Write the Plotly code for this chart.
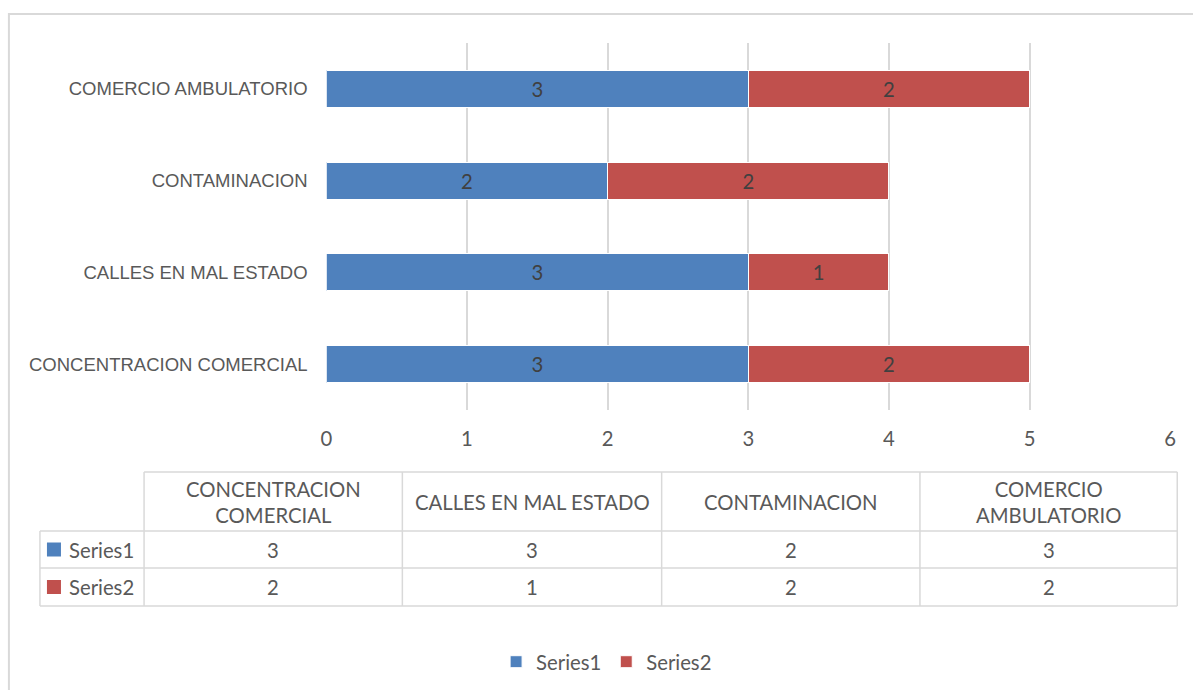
import plotly.graph_objects as go

# ---- data ----
categories = ["CONCENTRACION COMERCIAL", "CALLES EN MAL ESTADO", "CONTAMINACION", "COMERCIO AMBULATORIO"]
series_names = ["Series1", "Series2"]
series1 = [3, 3, 2, 3]
series2 = [2, 1, 2, 2]
x_ticks = [0, 1, 2, 3, 4, 5, 6]
table_headers = ["CONCENTRACION<br>COMERCIAL", "CALLES EN MAL ESTADO", "CONTAMINACION", "COMERCIO<br>AMBULATORIO"]

# ---- styles / layout ----
W, H = 1193, 690
colors = ["#4F81BD", "#C0504D"]
grid_col = "#D9D9D9"
text_col = "#595959"
label_col = "#404040"
num_font = "Lato, 'Open Sans', sans-serif"
cat_font = "'Liberation Sans', Arial, sans-serif"
NUM_SIZE = 20.3

# horizontal placement correction (observed page scaling in the viewer)
HX_SCALE, HX_OFF = 0.9888, 6.1

def px(x):
    return ((x - HX_OFF) / HX_SCALE) / W

def py(y):
    return 1 - y / H

fig = go.Figure()
for name, vals, col in zip(series_names, [series1, series2], colors):
    fig.add_trace(go.Bar(
        y=categories, x=vals, name=name, orientation="h",
        marker=dict(color=col, line=dict(color="white", width=1)),
        text=[str(v) for v in vals], textposition="inside",
        insidetextanchor="middle",
        textfont=dict(family=num_font, size=NUM_SIZE, color=label_col),
        hoverinfo="x+y+name",
    ))

shapes = []
annotations = []

# outer chart frame
shapes.append(dict(type="rect", xref="paper", yref="paper",
                   x0=px(9), x1=px(1215), y0=py(14), y1=py(720),
                   line=dict(color=grid_col, width=2), layer="below"))

# ---- data table (below the chart) ----
col_edges = [40, 144, 402, 661, 919, 1176]
row_edges = [472, 531, 568, 606]
tline = dict(color=grid_col, width=1.5)
shapes.append(dict(type="line", xref="paper", yref="paper",
                   x0=px(col_edges[1]), x1=px(col_edges[-1]),
                   y0=py(row_edges[0]), y1=py(row_edges[0]), line=tline))
for r in row_edges[1:]:
    shapes.append(dict(type="line", xref="paper", yref="paper",
                       x0=px(col_edges[0]), x1=px(col_edges[-1]),
                       y0=py(r), y1=py(r), line=tline))
shapes.append(dict(type="line", xref="paper", yref="paper",
                   x0=px(col_edges[0]), x1=px(col_edges[0]),
                   y0=py(row_edges[1]), y1=py(row_edges[-1]), line=tline))
for c in col_edges[1:]:
    shapes.append(dict(type="line", xref="paper", yref="paper",
                       x0=px(c), x1=px(c),
                       y0=py(row_edges[0]), y1=py(row_edges[-1]), line=tline))

tfont = dict(family=num_font, size=NUM_SIZE, color=text_col)
for i, h in enumerate(table_headers):
    cx = (col_edges[i + 1] + col_edges[i + 2]) / 2
    cy = (row_edges[0] + row_edges[1]) / 2
    annotations.append(dict(xref="paper", yref="paper", x=px(cx), y=py(cy),
                            text=h, showarrow=False, font=tfont,
                            xanchor="center", yanchor="middle"))
for ri, (name, vals, col) in enumerate(zip(series_names, [series1, series2], colors)):
    cy = (row_edges[ri + 1] + row_edges[ri + 2]) / 2
    shapes.append(dict(type="rect", xref="paper", yref="paper",
                       x0=px(47), x1=px(61), y0=py(cy - 7), y1=py(cy + 7),
                       fillcolor=col, line=dict(width=0)))
    annotations.append(dict(xref="paper", yref="paper", x=px(67), y=py(cy),
                            text=name, showarrow=False, font=tfont,
                            xanchor="left", yanchor="middle"))
    for ci, v in enumerate(vals):
        cx = (col_edges[ci + 1] + col_edges[ci + 2]) / 2
        annotations.append(dict(xref="paper", yref="paper", x=px(cx), y=py(cy),
                                text=str(v), showarrow=False, font=tfont,
                                xanchor="center", yanchor="middle"))

fig.update_layout(
    width=W, height=H,
    margin=dict(l=0, r=0, t=0, b=0),
    paper_bgcolor="white", plot_bgcolor="white",
    barmode="stack", bargap=0.595,
    showlegend=True,
    legend=dict(orientation="h", x=px(606), xanchor="center", y=py(662), yanchor="middle",
                font=dict(family=num_font, size=NUM_SIZE, color=text_col),
                traceorder="normal", itemwidth=30),
    xaxis=dict(domain=[px(326), px(1169)], range=[0, 6], tickvals=x_ticks,
               showgrid=True, gridcolor=grid_col, gridwidth=1.5,
               zeroline=False, showline=False,
               ticks="outside", ticklen=11, tickcolor="rgba(0,0,0,0)",
               tickfont=dict(family=num_font, size=NUM_SIZE, color=text_col),
               fixedrange=True),
    yaxis=dict(domain=[py(410), py(43)], range=[-0.5, 3.5],
               categoryorder="array", categoryarray=categories,
               showgrid=False, zeroline=False, showline=False,
               ticks="outside", ticklen=14, tickcolor="rgba(0,0,0,0)",
               tickfont=dict(family=cat_font, size=18.5, color=text_col),
               fixedrange=True),
    shapes=shapes, annotations=annotations,
)

fig.write_html(
    "out.html",
    config={"displayModeBar": False},
    post_script="document.body.style.margin='0';document.body.style.overflow='hidden';",
)
